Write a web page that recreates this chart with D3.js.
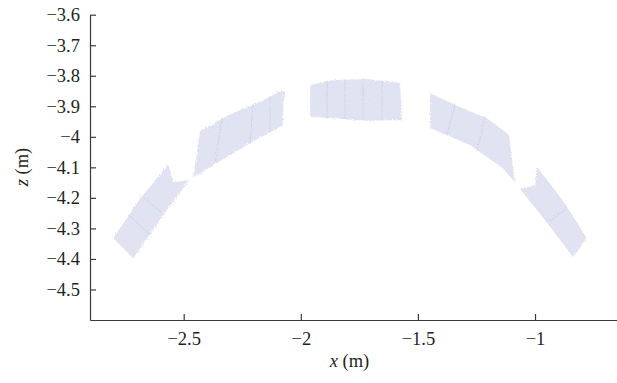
<!DOCTYPE html>
<html>
<head>
<meta charset="utf-8">
<script src="https://cdn.jsdelivr.net/npm/d3@7"></script>
<style>
  html, body { margin: 0; padding: 0; background: #fff; }
  svg { display: block; }
  .tick text { font-family: "Liberation Serif", "DejaVu Serif", serif; font-size: 18.5px; fill: #231f20; }
</style>
</head>
<body>
<script>
/*
------------------------------
DATA: outlines of the scanned tunnel patches (x, z in metres)
------------------------------
*/
const patch1 = [[-2.801, -4.332], [-2.690, -4.207], [-2.566, -4.090], [-2.545, -4.149], [-2.477, -4.142],
  [-2.600, -4.270], [-2.715, -4.398]]
const patch2 = [[-2.459, -4.132], [-2.430, -3.981], [-2.387, -3.962], [-2.289, -3.922], [-2.186, -3.890], [-2.118, -3.863],
  [-2.080, -3.847], [-2.067, -3.853], [-2.076, -3.903], [-2.076, -3.962], [-2.208, -4.017], [-2.353, -4.083], [-2.442, -4.126]]
const patch3 = [[-1.960, -3.830], [-1.862, -3.814], [-1.717, -3.811], [-1.576, -3.824], [-1.568, -3.945],
  [-1.717, -3.947], [-1.862, -3.939], [-1.960, -3.935]]
const patch4 = [[-1.448, -3.857], [-1.320, -3.903], [-1.205, -3.939], [-1.111, -3.994], [-1.086, -4.149],
  [-1.137, -4.103], [-1.278, -4.027], [-1.448, -3.971]]
const patch5 = [[-0.992, -4.099], [-1.000, -4.158], [-1.064, -4.171], [-0.950, -4.280], [-0.838, -4.394],
  [-0.779, -4.332], [-0.878, -4.212]]

// seams between neighbouring scans (faint darker streaks)
const seams = [
  [[-2.730, -4.259], [-2.643, -4.321]],
  [[-2.672, -4.199], [-2.585, -4.254]],
  [[-2.336, -3.939], [-2.366, -4.086]],
  [[-2.204, -3.893], [-2.216, -4.021]],
  [[-2.131, -3.867], [-2.131, -3.985]],
  [[-1.888, -3.816], [-1.888, -3.940]],
  [[-1.811, -3.813], [-1.811, -3.942]],
  [[-1.734, -3.812], [-1.734, -3.945]],
  [[-1.653, -3.816], [-1.653, -3.945]],
  [[-1.342, -3.893], [-1.376, -3.994]],
  [[-1.214, -3.935], [-1.248, -4.050]],
  [[-0.945, -4.280], [-0.864, -4.234]]
]

const xTicks = [-2.5, -2, -1.5, -1]
const zTicks = [-3.6, -3.7, -3.8, -3.9, -4, -4.1, -4.2, -4.3, -4.4, -4.5]
const xDomain = [-2.9, -0.65]
const zDomain = [-4.6, -3.6]

/*
------------------------------
METHOD: set the size of the canvas
------------------------------
*/
const width = 617
const height = 383
const margin = { top: 14.7, left: 90, right: 0, bottom: 63 }

const x = d3.scaleLinear(xDomain, [margin.left, width - margin.right])
const y = d3.scaleLinear(zDomain, [height - margin.bottom, margin.top])
const minus = d => String(d).replace("-", "\u2212")

const svg = d3.select("body").append("svg")
  .attr("width", width)
  .attr("height", height)

// grain for the point cloud
const defs = svg.append("defs")
const grain = defs.append("filter").attr("id", "grain")
  .attr("x", "-5%").attr("y", "-5%").attr("width", "110%").attr("height", "110%")
grain.append("feTurbulence").attr("type", "fractalNoise").attr("baseFrequency", 0.9)
  .attr("numOctaves", 2).attr("seed", 3).attr("result", "noise")
grain.append("feDisplacementMap").attr("in", "SourceGraphic").attr("in2", "noise")
  .attr("scale", 3.5).attr("result", "rough")
grain.append("feColorMatrix").attr("in", "noise").attr("type", "matrix")
  .attr("values", "0 0 0 0 0.78  0 0 0 0 0.80  0 0 0 0 0.90  0 0 0 -2 1.05")
  .attr("result", "speck")
grain.append("feComposite").attr("in", "speck").attr("in2", "rough").attr("operator", "in").attr("result", "speckIn")
const merge = grain.append("feMerge")
merge.append("feMergeNode").attr("in", "rough")
merge.append("feMergeNode").attr("in", "speckIn")

/*
------------------------------
METHOD: draw the patches
------------------------------
*/
const line = d3.line().x(d => x(d[0])).y(d => y(d[1]))

const cloud = svg.append("g")
  .attr("filter", "url(#grain)")

cloud.selectAll("path.patch")
  .data([patch1, patch2, patch3, patch4, patch5])
  .join("path")
  .attr("class", "patch")
  .attr("fill", "#e0e2f1")
  .attr("d", d => line(d) + "Z")

cloud.selectAll("path.seam")
  .data(seams)
  .join("path")
  .attr("class", "seam")
  .attr("fill", "none")
  .attr("stroke", "#d0d3e7")
  .attr("stroke-width", 1)
  .attr("d", line)

/*
------------------------------
METHOD: axes
------------------------------
*/
svg.append("g")
  .attr("transform", `translate(0,${height - margin.bottom})`)
  .call(d3.axisBottom(x).tickValues(xTicks).tickFormat(minus)
    .tickSizeInner(-6).tickSizeOuter(0).tickPadding(12))

svg.append("g")
  .attr("transform", `translate(${margin.left},0)`)
  .call(d3.axisLeft(y).tickValues(zTicks).tickFormat(minus)
    .tickSizeInner(-6).tickSizeOuter(0).tickPadding(10))

svg.selectAll(".domain, .tick line").attr("stroke", "#3a3a3a").attr("stroke-width", 1.2)

// axis titles
svg.append("text")
  .attr("x", (margin.left + width) / 2 - 4)
  .attr("y", 367)
  .attr("text-anchor", "middle")
  .style("font", "18.5px 'Liberation Serif', serif")
  .attr("fill", "#231f20")
  .html('<tspan font-style="italic">x</tspan> (m)')

svg.append("text")
  .attr("transform", "translate(28,167) rotate(-90)")
  .attr("text-anchor", "middle")
  .style("font", "18.5px 'Liberation Serif', serif")
  .attr("fill", "#231f20")
  .html('<tspan font-style="italic">z</tspan> (m)')
</script>
</body>
</html>
